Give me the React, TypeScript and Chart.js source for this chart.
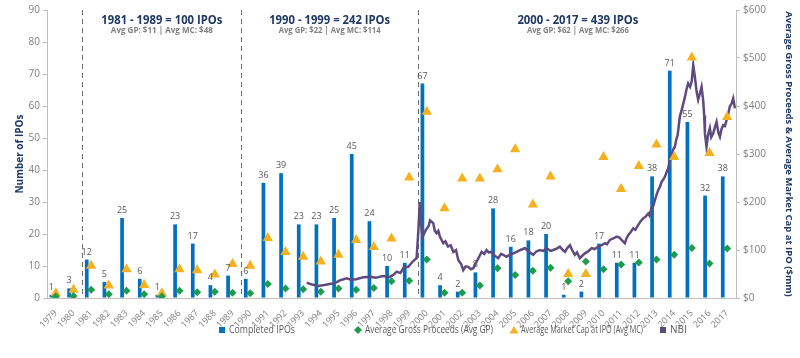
import React, { useEffect, useRef } from 'react';
import { Chart, registerables } from 'chart.js';

Chart.register(...registerables);

const YEARS = [
  '1979', '1980', '1981', '1982', '1983', '1984', '1985', '1986', '1987', '1988',
  '1989', '1990', '1991', '1992', '1993', '1994', '1995', '1996', '1997', '1998',
  '1999', '2000', '2001', '2002', '2003', '2004', '2005', '2006', '2007', '2008',
  '2009', '2010', '2011', '2012', '2013', '2014', '2015', '2016', '2017',
];

const COMPLETED_IPOS = [
  1, 3, 12, 5, 25, 6, 1, 23, 17, 4,
  7, 6, 36, 39, 23, 23, 25, 45, 24, 10,
  11, 67, 4, 2, 8, 28, 16, 18, 20, 1,
  2, 17, 11, 11, 38, 71, 55, 32, 38,
];

const AVG_GP = [
  3, 4, 17, 8, 15, 8, 3, 15, 12, 13,
  11, 10, 29, 20, 18, 13, 20, 17, 21, 35,
  36, 80, 11, 11, 26, 62, 48, 57, 63, 35,
  76, 60, 70, 74, 80, 90, 104, 72, 103,
];

const AVG_MC = [
  10, 17, 67, 26, 60, 27, 10, 60, 58, 49,
  71, 67, 125, 96, 86, 76, 90, 121, 106, 124,
  251, 388, 187, 249, 249, 268, 310, 195, 253, 50,
  50, 294, 227, 275, 320, 294, 501, 302, 377,
];

// NBI index (plotted on the $mm axis scale), [year, value]
const NBI_POINTS: [number, number][] = [
  [1993.2, 32], [1993.5, 28], [1993.85, 25], [1994.2, 27], [1994.5, 29], [1994.8, 31],
  [1995.1, 37], [1995.46, 41], [1995.7, 38], [1996.0, 39], [1996.4, 43], [1996.8, 44],
  [1997.1, 42], [1997.5, 46], [1997.9, 44], [1998.1, 48], [1998.3, 55], [1998.5, 52],
  [1998.7, 64], [1998.95, 65], [1999.2, 76], [1999.42, 83], [1999.52, 140], [1999.6, 200],
  [1999.68, 150], [1999.76, 128], [1999.95, 142], [2000.1, 150], [2000.18, 162], [2000.36, 156],
  [2000.45, 140], [2000.55, 135], [2000.65, 140], [2000.74, 128], [2000.93, 114], [2001.05, 118],
  [2001.2, 107], [2001.35, 110], [2001.5, 96], [2001.65, 100], [2001.78, 79], [2001.95, 70],
  [2002.06, 58], [2002.2, 66], [2002.34, 65], [2002.5, 60], [2002.63, 62], [2002.82, 76],
  [2002.95, 85], [2003.1, 96], [2003.25, 92], [2003.38, 100], [2003.5, 95], [2003.67, 96],
  [2003.85, 88], [2004.04, 83], [2004.2, 92], [2004.32, 90], [2004.5, 86], [2004.7, 90],
  [2004.9, 93], [2005.08, 96], [2005.3, 100], [2005.55, 104], [2005.8, 96], [2006.02, 90],
  [2006.2, 97], [2006.4, 100], [2006.6, 98], [2006.78, 104], [2007.0, 98], [2007.15, 100],
  [2007.35, 103], [2007.53, 107], [2007.7, 100], [2007.82, 96], [2007.95, 104], [2008.1, 110],
  [2008.25, 98], [2008.38, 90], [2008.5, 95], [2008.66, 83], [2008.8, 88], [2008.95, 93],
  [2009.15, 98], [2009.33, 104], [2009.5, 102], [2009.7, 107], [2009.9, 110], [2010.08, 114],
  [2010.2, 112], [2010.36, 121], [2010.55, 124], [2010.74, 128], [2010.9, 126], [2011.02, 121],
  [2011.21, 114], [2011.3, 124], [2011.4, 131], [2011.55, 138], [2011.68, 145], [2011.8, 142],
  [2011.96, 152], [2012.1, 160], [2012.25, 166], [2012.4, 170], [2012.53, 176], [2012.6, 172],
  [2012.72, 187], [2012.82, 192], [2012.91, 204], [2013.0, 215], [2013.1, 225], [2013.2, 232],
  [2013.29, 242], [2013.4, 248], [2013.48, 253], [2013.57, 262], [2013.66, 270], [2013.75, 285],
  [2013.85, 300], [2013.95, 310], [2014.04, 315], [2014.12, 330], [2014.2, 340], [2014.32, 378],
  [2014.45, 395], [2014.61, 419], [2014.7, 435], [2014.79, 447], [2014.9, 440], [2014.99, 451],
  [2015.08, 485], [2015.17, 461], [2015.27, 430], [2015.36, 413], [2015.45, 425], [2015.55, 440],
  [2015.64, 413], [2015.7, 380], [2015.74, 343], [2015.83, 315], [2015.92, 340], [2016.02, 354],
  [2016.1, 335], [2016.21, 343], [2016.3, 355], [2016.4, 367], [2016.5, 345], [2016.59, 336],
  [2016.68, 352], [2016.77, 360], [2016.87, 358], [2016.97, 371], [2017.05, 382], [2017.15, 399],
  [2017.25, 405], [2017.34, 416], [2017.44, 395],
];

const PERIOD_BREAKS = [1980.5, 1989.5, 1999.5];
const PERIOD_TITLES = ['1981 - 1989 = 100 IPOs', '1990 - 1999 = 242 IPOs', '2000 - 2017 = 439 IPOs'];
const PERIOD_SUBTITLES = ['Avg GP: $11 | Avg MC: $48', 'Avg GP: $22 | Avg MC: $114', 'Avg GP: $62 | Avg MC: $266'];

const LEFT_TICK_MAX = 90;
const RIGHT_TICK_MAX = 600;

const COLORS = {
  bar: '#0070C0',
  gp: '#1E9B4B',
  mc: '#F5B120',
  nbi: '#5F4A80',
  navy: '#1F3864',
  grayText: '#7F7F7F',
  label: '#595959',
  axis: '#BFBFBF',
};

const FONT = "'Open Sans', 'DejaVu Sans', sans-serif";

const overlayPlugin = {
  id: 'overlay',
  beforeDatasetsDraw(chart: any) {
    const { ctx, chartArea, scales } = chart;
    const x2 = scales.x2;
    ctx.save();
    ctx.strokeStyle = '#6E6E6E';
    ctx.lineWidth = 1;
    ctx.setLineDash([5, 4]);
    PERIOD_BREAKS.forEach((b) => {
      const px = Math.round(x2.getPixelForValue(b)) + 0.5;
      ctx.beginPath();
      ctx.moveTo(px, chartArea.top);
      ctx.lineTo(px, chartArea.bottom);
      ctx.stroke();
    });
    ctx.restore();
  },
  afterDatasetsDraw(chart: any) {
    const { ctx } = chart;
    const meta = chart.getDatasetMeta(0);
    ctx.save();
    ctx.fillStyle = COLORS.label;
    ctx.font = `9px ${FONT}`;
    ctx.textAlign = 'center';
    ctx.textBaseline = 'bottom';
    meta.data.forEach((bar: any, i: number) => {
      ctx.fillText(String(COMPLETED_IPOS[i]), bar.x, bar.y - 3);
    });
    ctx.restore();
  },
  afterDraw(chart: any) {
    const { ctx, scales } = chart;
    const x2 = scales.x2;
    const centers = [
      (x2.getPixelForValue(1980.5) + x2.getPixelForValue(1989.5)) / 2,
      (x2.getPixelForValue(1989.5) + x2.getPixelForValue(1999.5)) / 2,
      x2.getPixelForValue(2008.55),
    ];
    ctx.save();
    ctx.textAlign = 'center';
    ctx.textBaseline = 'middle';
    PERIOD_TITLES.forEach((t, i) => {
      ctx.fillStyle = COLORS.navy;
      ctx.font = `bold 13px ${FONT}`;
      ctx.fillText(t, centers[i], 20, 121);
      ctx.fillStyle = COLORS.grayText;
      ctx.font = `bold 8.5px ${FONT}`;
      ctx.fillText(PERIOD_SUBTITLES[i], centers[i], 31, 102);
    });

    // legend
    const y = 330;
    const items = [
      { label: chart.data.datasets[0].label, style: 'rect', color: COLORS.bar, x: 222, w: 66 },
      { label: chart.data.datasets[1].label, style: 'rectRot', color: COLORS.gp, x: 358, w: 128 },
      { label: chart.data.datasets[2].label, style: 'triangle', color: COLORS.mc, x: 514, w: 122 },
      { label: chart.data.datasets[3].label, style: 'rect', color: COLORS.nbi, x: 663, w: 20 },
    ];
    ctx.font = `10px ${FONT}`;
    ctx.textAlign = 'left';
    items.forEach((it) => {
      ctx.fillStyle = it.color;
      if (it.style === 'rect') {
        ctx.fillRect(it.x - 3, y - 3, 6, 6);
      } else if (it.style === 'rectRot') {
        ctx.beginPath();
        ctx.moveTo(it.x, y - 4);
        ctx.lineTo(it.x + 4, y);
        ctx.lineTo(it.x, y + 4);
        ctx.lineTo(it.x - 4, y);
        ctx.closePath();
        ctx.fill();
      } else {
        ctx.beginPath();
        ctx.moveTo(it.x, y - 4);
        ctx.lineTo(it.x + 4.5, y + 3.5);
        ctx.lineTo(it.x - 4.5, y + 3.5);
        ctx.closePath();
        ctx.fill();
      }
      ctx.fillStyle = COLORS.label;
      ctx.fillText(it.label, it.x + 7, y + 0.5, it.w);
    });
    ctx.restore();
  },
};

export default function App() {
  const ref = useRef<HTMLCanvasElement>(null);

  useEffect(() => {
    const canvas = ref.current;
    if (!canvas) return;
    const chart = new Chart(canvas, {
      type: 'bar',
      data: {
        labels: YEARS,
        datasets: [
          {
            type: 'bar',
            label: 'Completed IPOs',
            data: COMPLETED_IPOS,
            backgroundColor: COLORS.bar,
            xAxisID: 'x',
            yAxisID: 'y',
            barPercentage: 0.42,
            categoryPercentage: 1,
            order: 4,
          },
          {
            type: 'line',
            label: 'Average Gross Proceeds (Avg GP)',
            data: AVG_GP,
            xAxisID: 'x',
            yAxisID: 'y1',
            showLine: false,
            pointStyle: 'rectRot',
            pointRadius: 4,
            pointBorderWidth: 0,
            backgroundColor: COLORS.gp,
            borderColor: COLORS.gp,
            order: 1,
          },
          {
            type: 'line',
            label: 'Average Market Cap at IPO (Avg MC)',
            data: AVG_MC,
            xAxisID: 'x',
            yAxisID: 'y1',
            showLine: false,
            pointStyle: 'triangle',
            pointRadius: 6,
            pointBorderWidth: 0,
            backgroundColor: COLORS.mc,
            borderColor: COLORS.mc,
            order: 2,
          },
          {
            type: 'line',
            label: 'NBI',
            data: NBI_POINTS.map(([x, y]) => ({ x, y })),
            xAxisID: 'x2',
            yAxisID: 'y1',
            borderColor: COLORS.nbi,
            backgroundColor: COLORS.nbi,
            borderWidth: 2.5,
            pointRadius: 0,
            tension: 0,
            order: 3,
          },
        ] as any,
      },
      options: {
        responsive: false,
        animation: false,
        events: [],
        layout: { padding: { top: 10, left: 0, right: 0, bottom: 0 } },
        plugins: {
          legend: { display: false },
          tooltip: { enabled: false },
        },
        scales: {
          x: {
            type: 'category',
            offset: true,
            grid: { display: false },
            border: { display: true, color: COLORS.axis },
            ticks: {
              autoSkip: false,
              minRotation: 45,
              maxRotation: 45,
              color: COLORS.grayText,
              font: { family: FONT, size: 9 },
              padding: 2,
            },
            afterFit: (s: any) => { s.height = 60; },
          },
          x2: {
            type: 'linear',
            display: false,
            offset: false,
            grid: { offset: false },
            bounds: 'data',
            min: 1978.5,
            max: 2017.5,
          },
          y: {
            position: 'left',
            min: 0,
            max: LEFT_TICK_MAX,
            ticks: {
              stepSize: 10,
              color: COLORS.grayText,
              font: { family: FONT, size: 10 },
            },
            grid: { drawOnChartArea: false, drawTicks: true, tickLength: 4, color: COLORS.axis },
            border: { display: true, color: COLORS.axis },
            title: {
              display: true,
              text: 'Number of IPOs',
              color: COLORS.navy,
              font: { family: FONT, size: 10, weight: 'bold' },
              padding: { top: 14, bottom: 0 },
            },
            afterFit: (s: any) => { s.width = 47; },
          },
          y1: {
            position: 'right',
            min: 0,
            max: RIGHT_TICK_MAX,
            ticks: {
              stepSize: 100,
              color: COLORS.grayText,
              font: { family: FONT, size: 10 },
              callback: (v: any) => `$${v}`,
            },
            grid: { drawOnChartArea: false, drawTicks: true, tickLength: 4, color: COLORS.axis },
            border: { display: true, color: COLORS.axis },
            title: {
              display: true,
              text: 'Average Gross Proceeds & Average Market Cap at IPO ($mm)',
              color: COLORS.navy,
              font: { family: FONT, size: 9.5, weight: 'bold' },
              padding: { top: 6, bottom: 0 },
            },
            afterFit: (s: any) => { s.width = 64; },
          },
        },
      } as any,
      plugins: [overlayPlugin],
    });
    return () => chart.destroy();
  }, []);

  return (
    <div style={{ position: 'fixed', left: 0, top: 0, width: 800, height: 358, background: '#fff' }}>
      <canvas ref={ref} width={800} height={358} style={{ display: 'block' }} />
    </div>
  );
}
